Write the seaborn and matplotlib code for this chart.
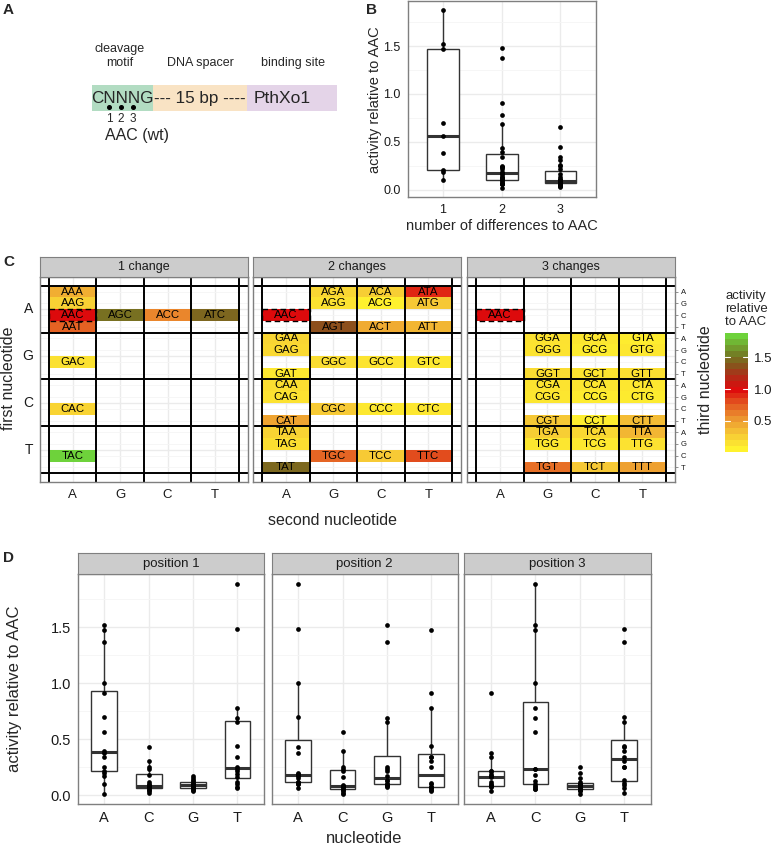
import matplotlib
matplotlib.use("Agg")
import matplotlib.pyplot as plt
from matplotlib.cm import ScalarMappable
from matplotlib.colors import LinearSegmentedColormap, Normalize
from matplotlib.patches import Rectangle
import numpy as np
import pandas as pd
import seaborn as sns

sns.set_style("white")
plt.rcParams["font.family"] = ["Liberation Sans", "DejaVu Sans"]

W, H = 774, 847

# ── data ──────────────────────────────────────────────────────────────────
NT_ORDER = ["A", "G", "C", "T"]   # order on the panel C axes
NT_ALPHA = ["A", "C", "G", "T"]   # order on the panel D axes
WT = "AAC"

# first + second nucleotide; each row of `activity` is third nucleotide A, G, C, T
prefixes = ["AA", "AG", "AC", "AT",
            "GA", "GG", "GC", "GT",
            "CA", "CG", "CC", "CT",
            "TA", "TG", "TC", "TT"]
activity = [
    [0.38, 0.20, 1.00, 0.70],
    [0.17, 0.10, 1.52, 1.37],
    [0.22, 0.012, 0.565, 0.396],
    [0.91, 0.25, 1.47, 0.34],
    [0.17, 0.15, 0.105, 0.063],
    [0.10, 0.09, 0.131, 0.137],
    [0.08, 0.05, 0.083, 0.089],
    [0.04, 0.07, 0.06, 0.113],
    [0.12, 0.10, 0.18, 0.43],
    [0.09, 0.08, 0.235, 0.25],
    [0.08, 0.04, 0.06, 0.024],
    [0.07, 0.05, 0.07, 0.31],
    [0.187, 0.122, 1.88, 1.48],
    [0.22, 0.077, 0.69, 0.65],
    [0.16, 0.063, 0.238, 0.256],
    [0.345, 0.098, 0.78, 0.443],
]
change_facets = [1, 2, 3]
change_titles = ["1 change", "2 changes", "3 changes"]
position_titles = ["position 1", "position 2", "position 3"]

rows = []
for pre, vals in zip(prefixes, activity):
    for third, v in zip(NT_ORDER, vals):
        codon = pre + third
        rows.append({"codon": codon, "activity": v,
                     "ndiff": sum(a != b for a, b in zip(codon, WT))})
df = pd.DataFrame(rows)
vmax = df["activity"].max()

cmap = LinearSegmentedColormap.from_list("activity", [
    (0.00 / vmax, "#FFF22E"),
    (0.25 / vmax, "#F6C835"),
    (0.50 / vmax, "#EC9530"),
    (0.75 / vmax, "#E35520"),
    (1.00 / vmax, "#DE0A0C"),
    (1.25 / vmax, "#A8321A"),
    (1.40 / vmax, "#86561C"),
    (1.55 / vmax, "#747722"),
    (1.00, "#6ED23B"),
])

GRID = "#EBEBEB"
GRID_MINOR = "#F5F5F5"
BORDER = "#7F7F7F"
BOXLINE = "#333333"

fig = plt.figure(figsize=(W / 100, H / 100), dpi=100)


def px_axes(x0, y0, x1, y1):
    return fig.add_axes([x0 / W, 1 - y1 / H, (x1 - x0) / W, (y1 - y0) / H])


def ftext(x, y, s, **kw):
    kw.setdefault("ha", "center")
    kw.setdefault("va", "center")
    fig.text(x / W, 1 - y / H, s, **kw)


def style_panel(ax, labelsize):
    ax.set_facecolor("white")
    for sp in ax.spines.values():
        sp.set_visible(True)
        sp.set_color(BORDER)
        sp.set_linewidth(1.0)
    ax.tick_params(axis="both", direction="out", length=3, width=0.8, color=BORDER,
                   labelsize=labelsize, labelcolor="#1A1A1A", pad=2)
    ax.set_xlabel("")
    ax.set_ylabel("")


def strip(x0, y0, x1, y1, title, size):
    ax = px_axes(x0, y0, x1, y1)
    ax.set_facecolor("#CCCCCC")
    ax.set_xticks([])
    ax.set_yticks([])
    for sp in ax.spines.values():
        sp.set_color(BORDER)
    ax.text(0.5, 0.5, title, ha="center", va="center", fontsize=size,
            color="#1A1A1A", transform=ax.transAxes)


def box_with_points(ax, data, x, order, width):
    sns.boxplot(data=data, x=x, y="activity", order=order, width=width, color="white",
                linecolor=BOXLINE, linewidth=1.0, showfliers=False, showcaps=False,
                medianprops={"linewidth": 2.2, "color": BOXLINE}, ax=ax)
    sns.stripplot(data=data, x=x, y="activity", order=order, jitter=False,
                  color="black", size=3.4, ax=ax)
    ax.set_xlim(-0.6, len(order) - 0.4)
    ax.set_ylim(-0.08, 1.97)
    ax.set_yticks([0, 0.5, 1.0, 1.5])
    ax.set_yticks([0.25, 0.75, 1.25, 1.75], minor=True)
    ax.set_axisbelow(True)
    ax.yaxis.grid(True, which="major", color=GRID, lw=1.0)
    ax.yaxis.grid(True, which="minor", color=GRID_MINOR, lw=0.6)
    ax.xaxis.grid(True, which="major", color=GRID, lw=1.0)
    ax.tick_params(axis="y", which="minor", length=0)


# ── A: construct diagram ──────────────────────────────────────────────────
axA = px_axes(0, 0, 340, 200)
axA.set_xlim(0, 340)
axA.set_ylim(200, 0)
axA.axis("off")
for x0, x1, c in [(92, 153.3, "#B2DCC2"), (153.3, 246.7, "#F9E3C4"), (246.7, 336.7, "#E4D4E8")]:
    axA.add_patch(Rectangle((x0, 85), x1 - x0, 25.7, facecolor=c, edgecolor="none"))
axA.text(122, 98, "CNNNG", ha="center", va="center", fontsize=12.3)
axA.text(200, 98, "--- 15 bp ----", ha="center", va="center", fontsize=12.3)
axA.text(254, 98, "PthXo1", ha="left", va="center", fontsize=12.5)
for xd, lab in zip([109, 121, 132.7], ["1", "2", "3"]):
    axA.plot(xd, 107.5, "o", color="black", ms=2.6)
    axA.text(xd, 118.5, lab, ha="center", va="center", fontsize=8.5)
axA.text(137, 135, "AAC (wt)", ha="center", va="center", fontsize=11.5)
axA.text(120, 56, "cleavage\nmotif", ha="center", va="center", fontsize=9, linespacing=1.25)
axA.text(200, 63, "DNA spacer", ha="center", va="center", fontsize=9)
axA.text(293, 63, "binding site", ha="center", va="center", fontsize=9)

# ── B: activity vs number of differences ──────────────────────────────────
axB = px_axes(407.7, 1, 595.7, 197.3)
dB = df[df["ndiff"] > 0]
box_with_points(axB, dB, "ndiff", change_facets, 0.54)
style_panel(axB, 9)
axB.set_yticklabels(["0.0", "0.5", "1.0", "1.5"])
ftext(375, 100, "activity relative to AAC", rotation=90, fontsize=10.5)
ftext(501.7, 225.5, "number of differences to AAC", fontsize=10.5)

# ── C: heatmap facets ─────────────────────────────────────────────────────
c_x = [(40, 247.7), (253.3, 461), (467.3, 675)]
c_y0, c_y1 = 276.7, 482.3
for (x0, x1), nch, title in zip(c_x, change_facets, change_titles):
    mat = np.full((16, 4), np.nan)
    labels = np.full((16, 4), "", dtype=object)
    for codon, v, d in zip(df["codon"], df["activity"], df["ndiff"]):
        if d == nch or codon == WT:
            r = NT_ORDER.index(codon[0]) * 4 + NT_ORDER.index(codon[2])
            c = NT_ORDER.index(codon[1])
            mat[r, c] = v
            labels[r, c] = codon
    ax = px_axes(x0, c_y0, x1, c_y1)
    sns.heatmap(mat, ax=ax, cmap=cmap, vmin=0, vmax=vmax, cbar=False,
                annot=labels, fmt="", mask=np.isnan(mat),
                annot_kws={"color": "black", "fontsize": 8.2})
    ax.set_xlim(-0.19, 4.19)
    ax.set_ylim(16.77, -0.77)
    for xv in np.arange(4) + 0.5:
        ax.axvline(xv, color=GRID, lw=1.0, zorder=0.5)
    for yv in np.arange(16) + 0.5:
        ax.axhline(yv, color=GRID_MINOR, lw=0.6, zorder=0.5)
    for b in range(4):
        ax.axhline(b * 4 + 2, color=GRID, lw=1.0, zorder=0.5)
    for xv in range(5):
        ax.axvline(xv, color="black", lw=1.4, zorder=2.5)
    for yv in range(0, 17, 4):
        ax.axhline(yv, color="black", lw=1.4, zorder=2.5)
    r_wt = NT_ORDER.index(WT[0]) * 4 + NT_ORDER.index(WT[2])
    c_wt = NT_ORDER.index(WT[1])
    ax.add_patch(Rectangle((c_wt, r_wt), 1, 1, fill=False, ec="black", lw=1.0,
                           ls=(0, (4, 2.5)), zorder=2.6))
    style_panel(ax, 9.5)
    ax.set_xticks(np.arange(4) + 0.5)
    ax.set_xticklabels(NT_ORDER, rotation=0)
    if nch == 1:
        ax.set_yticks(np.arange(4) * 4 + 2)
        ax.set_yticklabels(NT_ORDER, rotation=0, fontsize=10)
    else:
        ax.set_yticks([])
    if nch == 3:
        ax2 = ax.twinx()
        ax2.set_ylim(ax.get_ylim())
        ax2.set_yticks(np.arange(16) + 0.5)
        ax2.set_yticklabels(NT_ORDER * 4, fontsize=5.5, color="#1A1A1A")
        ax2.tick_params(axis="y", length=2.5, width=0.6, color=BORDER, pad=1.5)
        for sp in ax2.spines.values():
            sp.set_visible(False)
    strip(x0, 256.7, x1, c_y0, title, 9)

ftext(9, 378, "first nucleotide", rotation=90, fontsize=11.5)
ftext(333, 520, "second nucleotide", fontsize=11.5)
ftext(706, 380, "third nucleotide", rotation=90, fontsize=11.5)

cax = px_axes(725, 333, 748, 452)
cb = fig.colorbar(ScalarMappable(norm=Normalize(df["activity"].min(), vmax), cmap=cmap.resampled(20)),
                  cax=cax)
cb.outline.set_visible(False)
cb.set_ticks([0.5, 1.0, 1.5])
cax.tick_params(length=0, labelsize=9.5, labelcolor="#1A1A1A", pad=4)
for tv in [0.5, 1.0, 1.5]:
    cax.axhline(tv, xmin=0, xmax=0.2, color="white", lw=0.8)
    cax.axhline(tv, xmin=0.8, xmax=1, color="white", lw=0.8)
ftext(725, 290, "activity\nrelative\nto AAC", ha="left", va="top", fontsize=9.5, linespacing=1.1)

# ── D: activity by nucleotide at each position ────────────────────────────
d_x = [(77.7, 264), (271.7, 457.7), (464.3, 651)]
d_y0, d_y1 = 574.3, 804.3
for i, ((x0, x1), title) in enumerate(zip(d_x, position_titles)):
    ax = px_axes(x0, d_y0, x1, d_y1)
    dD = df.assign(nucleotide=df["codon"].str[i])
    box_with_points(ax, dD, "nucleotide", NT_ALPHA, 0.58)
    style_panel(ax, 10.5)
    if i == 0:
        ax.set_yticklabels(["0.0", "0.5", "1.0", "1.5"])
    else:
        ax.set_yticklabels([])
        ax.tick_params(axis="y", length=0)
    strip(x0, 552.7, x1, d_y0, title, 9.5)

ftext(15, 689, "activity relative to AAC", rotation=90, fontsize=12)
ftext(364, 838, "nucleotide", fontsize=12)

# panel letters
for lab, x, y in [("A", 3, 10), ("B", 366, 10), ("C", 3, 262), ("D", 3, 558)]:
    ftext(x, y, lab, ha="left", fontsize=11, fontweight="bold")

fig.savefig("out.png", dpi=100)
